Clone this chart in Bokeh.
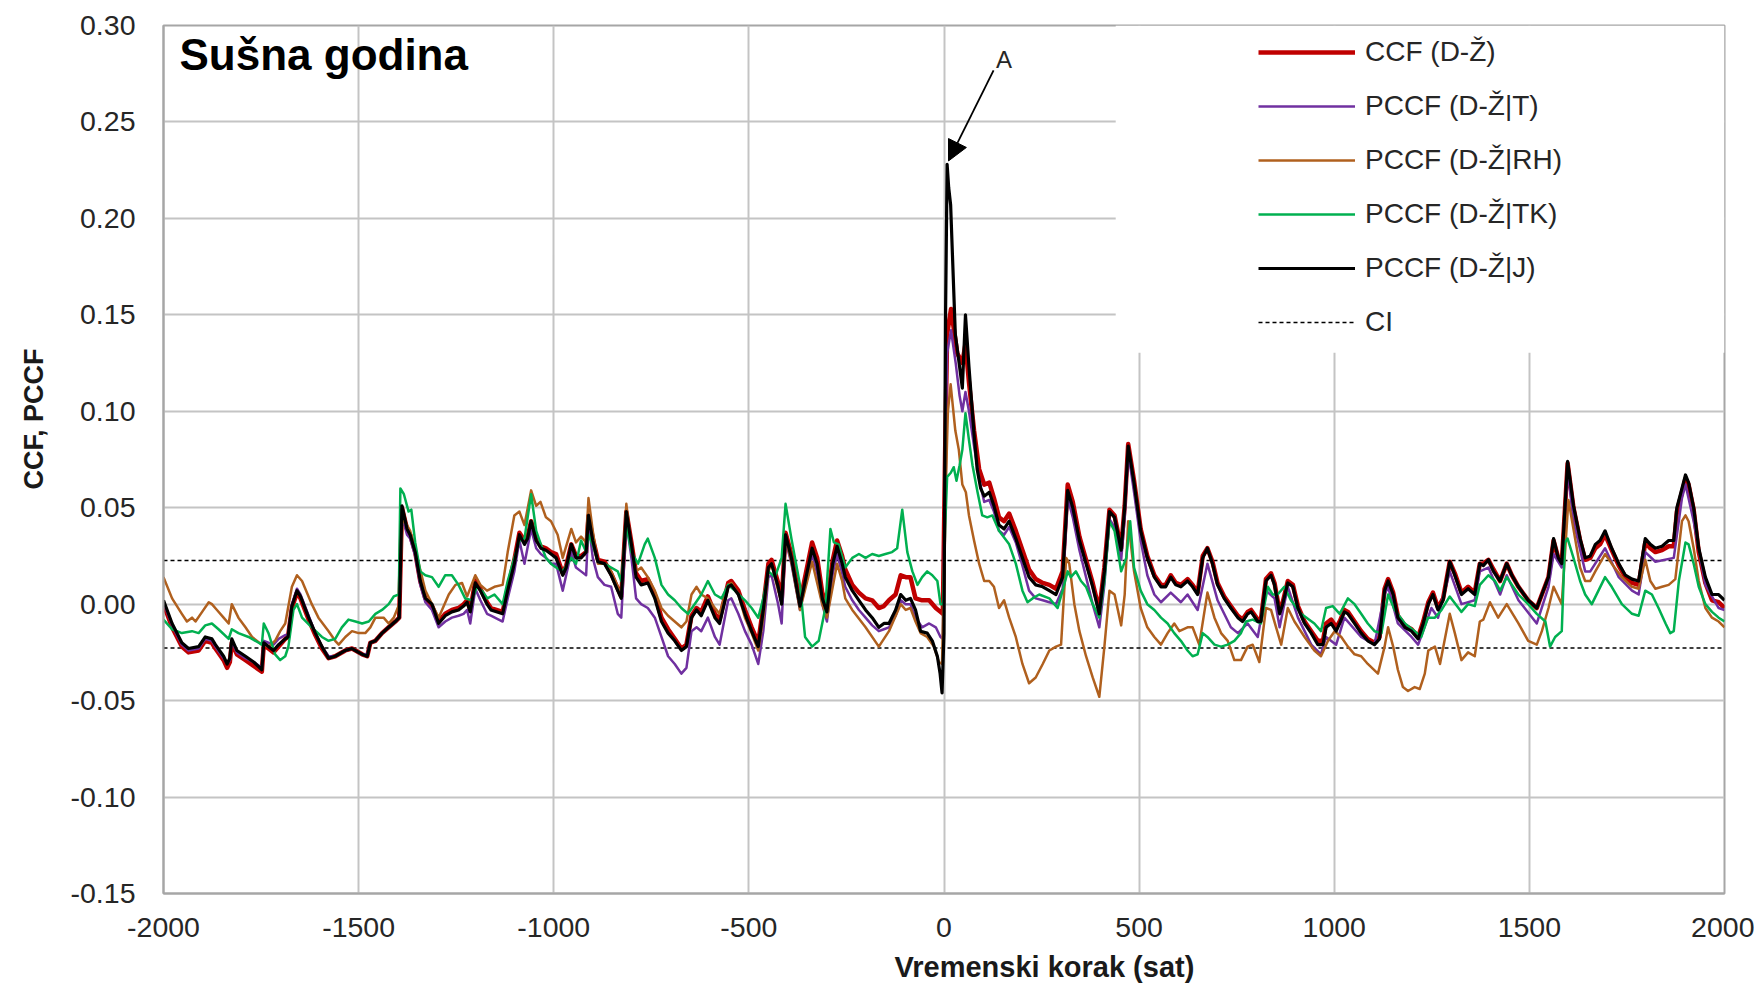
from bokeh.plotting import figure
from bokeh.models import (Range1d, FixedTicker, PrintfTickFormatter, Legend, LegendItem,
                          BoxAnnotation, Arrow, NormalHead, Label, Title)
from bokeh.embed import file_html
from bokeh.resources import INLINE

FONT = "Liberation Sans"

X_TICKS = [-2000, -1500, -1000, -500, 0, 500, 1000, 1500, 2000]
Y_TICKS = [-0.15, -0.10, -0.05, 0.0, 0.05, 0.10, 0.15, 0.20, 0.25, 0.30]
CI = 0.0227

LABELS = ["CCF (D-Ž)", "PCCF (D-Ž|T)", "PCCF (D-Ž|RH)", "PCCF (D-Ž|TK)", "PCCF (D-Ž|J)", "CI"]
X_LABEL = "Vremenski korak (sat)"
Y_LABEL = "CCF, PCCF"
PANEL_TITLE = "Sušna godina"

# PCCF (D-Ž|J)  -- black
PCCF_J = [
(-2000, 0.002), (-1978, -0.010), (-1953, -0.020), (-1936, -0.023), (-1910, -0.022), (-1893, -0.017), (-1876, -0.018), (-1867, -0.021), (-1846, -0.027), (-1837, -0.031), (-1830, -0.028), (-1825, -0.018), (-1812, -0.024), (-1790, -0.027), (-1769, -0.030), (-1748, -0.034), (-1743, -0.020), (-1731, -0.022), (-1718, -0.024), (-1705, -0.021), (-1688, -0.018), (-1681, -0.017), (-1671, -0.001), (-1658, 0.007), (-1649, 0.004), (-1628, -0.007), (-1611, -0.015), (-1594, -0.022), (-1577, -0.028), (-1560, -0.027), (-1534, -0.024), (-1517, -0.023), (-1491, -0.026), (-1478, -0.027), (-1470, -0.020), (-1457, -0.019), (-1440, -0.015), (-1423, -0.012), (-1406, -0.009), (-1396, -0.007), (-1389, 0.051), (-1376, 0.039), (-1368, 0.036), (-1355, 0.027), (-1342, 0.012), (-1329, 0.003), (-1312, 0.000), (-1295, -0.010), (-1278, -0.006), (-1261, -0.004), (-1244, -0.003), (-1231, -0.001), (-1222, 0.001), (-1214, -0.004), (-1201, 0.011), (-1188, 0.007), (-1171, 0.000),
(-1161, -0.003), (-1131, -0.005), (-1118, 0.007), (-1101, 0.021), (-1088, 0.036), (-1075, 0.031), (-1067, 0.034), (-1058, 0.043), (-1045, 0.033), (-1033, 0.029), (-1020, 0.028), (-1007, 0.026), (-994, 0.024), (-977, 0.015), (-968, 0.019), (-955, 0.031), (-943, 0.024), (-930, 0.024), (-917, 0.027), (-911, 0.046), (-900, 0.033), (-887, 0.022), (-870, 0.021), (-853, 0.015), (-836, 0.007), (-827, 0.003), (-814, 0.048), (-801, 0.031), (-789, 0.014), (-776, 0.010), (-759, 0.011), (-741, 0.003), (-724, -0.009), (-707, -0.015), (-690, -0.019), (-673, -0.024), (-660, -0.022), (-647, -0.007), (-634, -0.003), (-622, -0.006), (-605, 0.002), (-587, -0.007), (-575, -0.010), (-553, 0.009), (-545, 0.010), (-527, 0.005), (-510, -0.005), (-493, -0.014), (-476, -0.022), (-463, -0.003), (-450, 0.019), (-442, 0.021), (-425, 0.009), (-416, 0.000), (-406, 0.036), (-391, 0.024), (-369, -0.001),
(-338, 0.029), (-325, 0.021), (-312, 0.003), (-300, -0.004), (-291, 0.012), (-285, 0.021), (-274, 0.030), (-261, 0.021), (-253, 0.014), (-235, 0.007), (-218, 0.002), (-201, -0.003), (-184, -0.007), (-167, -0.012), (-154, -0.010), (-141, -0.010), (-124, -0.003), (-111, 0.005), (-98, 0.002), (-86, 0.003), (-73, -0.003), (-60, -0.014), (-43, -0.015), (-30, -0.019), (-17, -0.027), (-10, -0.036), (-5, -0.046), (0, -0.015),
(4, 0.150), (8, 0.228), (12, 0.216), (17, 0.207), (29, 0.140), (40, 0.123), (47, 0.112), (55, 0.150), (64, 0.123), (77, 0.088), (85, 0.070), (94, 0.060), (103, 0.056), (116, 0.058), (128, 0.051), (141, 0.041), (154, 0.039), (167, 0.043), (184, 0.034), (201, 0.024), (218, 0.014), (235, 0.010), (253, 0.009), (270, 0.007), (287, 0.005), (304, 0.014), (317, 0.059), (330, 0.050), (347, 0.033), (364, 0.021), (381, 0.009), (398, -0.005), (411, 0.017), (424, 0.048), (437, 0.045), (454, 0.028), (463, 0.050), (472, 0.082), (487, 0.063), (504, 0.038), (521, 0.024), (539, 0.014), (556, 0.009), (568, 0.009), (581, 0.014), (594, 0.010), (607, 0.009), (624, 0.012), (637, 0.009), (650, 0.005), (663, 0.024), (675, 0.029), (688, 0.021), (701, 0.010), (718, 0.003), (735, -0.002), (753, -0.007), (765, -0.009), (778, -0.005), (787, -0.004), (804, -0.009), (812, -0.009), (825, 0.012), (838, 0.015), (847, 0.010), (860, -0.005), (868, 0.000), (881, 0.011), (894, 0.009), (907, -0.002), (924, -0.010), (941, -0.015), (958, -0.021), (971, -0.021), (979, -0.012), (992, -0.010), (1005, -0.014), (1014, -0.010), (1026, -0.004), (1035, -0.005), (1052, -0.010), (1069, -0.015), (1086, -0.019), (1103, -0.021), (1116, -0.018), (1129, 0.007), (1138, 0.012), (1151, 0.005), (1163, -0.007), (1181, -0.012), (1198, -0.014), (1215, -0.018), (1228, -0.010), (1241, 0.000), (1253, 0.005), (1266, -0.003), (1279, 0.002), (1296, 0.022), (1309, 0.015), (1326, 0.005), (1343, 0.008), (1360, 0.005), (1373, 0.021), (1382, 0.020), (1395, 0.023), (1408, 0.017), (1425, 0.012), (1442, 0.021), (1455, 0.015), (1472, 0.009), (1497, 0.002), (1519, -0.002), (1532, 0.005), (1549, 0.014), (1562, 0.034), (1574, 0.024), (1583, 0.021), (1598, 0.074), (1613, 0.051), (1630, 0.034), (1643, 0.024), (1656, 0.025), (1669, 0.031), (1681, 0.033), (1694, 0.038), (1711, 0.029), (1729, 0.021), (1746, 0.015), (1763, 0.013), (1780, 0.012), (1797, 0.034), (1810, 0.031), (1823, 0.029), (1840, 0.030), (1857, 0.033), (1870, 0.033), (1878, 0.050), (1891, 0.060), (1900, 0.067), (1908, 0.063), (1921, 0.050), (1934, 0.029), (1951, 0.014), (1968, 0.005), (1985, 0.005), (2000, 0.002),
]

# CCF (D-Ž) -- red
CCF = [
(-2000, 0.000), (-1978, -0.012), (-1953, -0.022), (-1936, -0.025), (-1910, -0.024), (-1893, -0.019), (-1876, -0.020), (-1867, -0.023), (-1846, -0.029), (-1837, -0.033), (-1830, -0.030), (-1825, -0.020), (-1812, -0.026), (-1790, -0.029), (-1769, -0.032), (-1748, -0.035), (-1743, -0.021), (-1731, -0.023), (-1718, -0.025), (-1705, -0.022), (-1688, -0.018), (-1681, -0.017), (-1671, -0.002), (-1658, 0.006), (-1649, 0.003), (-1628, -0.008), (-1611, -0.016), (-1594, -0.023), (-1577, -0.028), (-1560, -0.027), (-1534, -0.024), (-1517, -0.023), (-1491, -0.026), (-1478, -0.027), (-1470, -0.020), (-1457, -0.019), (-1440, -0.015), (-1423, -0.012), (-1406, -0.009), (-1396, -0.007), (-1389, 0.050), (-1376, 0.039), (-1368, 0.036), (-1355, 0.027), (-1342, 0.012), (-1329, 0.003), (-1312, -0.001), (-1295, -0.009), (-1278, -0.005), (-1261, -0.003), (-1244, -0.002), (-1231, 0.000), (-1222, 0.002), (-1214, -0.003), (-1201, 0.012), (-1188, 0.008), (-1171, 0.001),
(-1161, -0.002), (-1131, -0.004), (-1118, 0.008), (-1101, 0.023), (-1088, 0.037), (-1075, 0.033), (-1067, 0.035), (-1058, 0.043), (-1045, 0.034), (-1033, 0.030), (-1020, 0.029), (-1007, 0.027), (-994, 0.026), (-977, 0.016), (-968, 0.020), (-955, 0.031), (-943, 0.025), (-930, 0.025), (-917, 0.027), (-911, 0.046), (-900, 0.034), (-887, 0.023), (-870, 0.022), (-853, 0.016), (-836, 0.008), (-827, 0.004), (-814, 0.048), (-801, 0.032), (-789, 0.016), (-776, 0.012), (-759, 0.013), (-741, 0.005), (-724, -0.007), (-707, -0.013), (-690, -0.018), (-673, -0.023), (-660, -0.021), (-647, -0.006), (-634, -0.002), (-622, -0.004), (-605, 0.004), (-587, -0.005), (-575, -0.008), (-553, 0.011), (-545, 0.012), (-527, 0.007), (-510, -0.003), (-493, -0.012), (-476, -0.020), (-463, -0.001), (-450, 0.021), (-442, 0.023), (-425, 0.011), (-416, 0.002), (-406, 0.037), (-391, 0.026), (-369, 0.001),
(-338, 0.032), (-325, 0.024), (-312, 0.006), (-300, -0.001), (-291, 0.014), (-285, 0.023), (-274, 0.033), (-261, 0.025), (-253, 0.018), (-235, 0.010), (-218, 0.006), (-201, 0.003), (-184, 0.002), (-167, -0.002), (-154, -0.001), (-141, 0.002), (-124, 0.005), (-111, 0.015), (-98, 0.014), (-86, 0.014), (-73, 0.003), (-56, 0.002), (-38, 0.002), (-21, -0.002), (-9, -0.004), (-3, -0.005),
(3, 0.080), (8, 0.140), (18, 0.153), (34, 0.130), (47, 0.125), (55, 0.135), (64, 0.115), (77, 0.090), (90, 0.070), (103, 0.062), (116, 0.063), (128, 0.055), (141, 0.045), (154, 0.043), (167, 0.047), (184, 0.038), (201, 0.028), (218, 0.018), (235, 0.013), (253, 0.011), (270, 0.010), (287, 0.008), (304, 0.017), (317, 0.062), (330, 0.053), (347, 0.035), (364, 0.023), (381, 0.011), (398, -0.003), (411, 0.019), (424, 0.049), (437, 0.046), (454, 0.029), (463, 0.051), (472, 0.083), (487, 0.064), (504, 0.039), (521, 0.025), (539, 0.015), (556, 0.010), (568, 0.010), (581, 0.015), (594, 0.011), (607, 0.010), (624, 0.013), (637, 0.010), (650, 0.006), (663, 0.025), (675, 0.029), (688, 0.022), (701, 0.011), (718, 0.004), (735, -0.001), (753, -0.006), (765, -0.008), (778, -0.004), (787, -0.003), (804, -0.008), (812, -0.008), (825, 0.013), (838, 0.016), (847, 0.011), (860, -0.004), (868, 0.001), (881, 0.012), (894, 0.010), (907, -0.001), (924, -0.009), (941, -0.014), (958, -0.019), (971, -0.019), (979, -0.010), (992, -0.008), (1005, -0.012), (1014, -0.009), (1026, -0.003), (1035, -0.004), (1052, -0.009), (1069, -0.014), (1086, -0.018), (1103, -0.020), (1116, -0.017), (1129, 0.008), (1138, 0.013), (1151, 0.006), (1163, -0.006), (1181, -0.011), (1198, -0.013), (1215, -0.017), (1228, -0.009), (1241, 0.001), (1253, 0.006), (1266, -0.002), (1279, 0.003), (1296, 0.022), (1309, 0.016), (1326, 0.006), (1343, 0.009), (1360, 0.006), (1373, 0.021), (1382, 0.021), (1395, 0.023), (1408, 0.018), (1425, 0.012), (1442, 0.021), (1455, 0.015), (1472, 0.009), (1497, 0.002), (1519, -0.002), (1532, 0.005), (1549, 0.014), (1562, 0.033), (1574, 0.024), (1583, 0.021), (1598, 0.073), (1613, 0.050), (1630, 0.033), (1643, 0.023), (1656, 0.024), (1669, 0.029), (1681, 0.031), (1694, 0.036), (1711, 0.028), (1729, 0.020), (1746, 0.014), (1763, 0.011), (1780, 0.010), (1797, 0.032), (1810, 0.029), (1823, 0.027), (1840, 0.028), (1857, 0.030), (1870, 0.030), (1878, 0.048), (1891, 0.058), (1900, 0.065), (1908, 0.062), (1921, 0.049), (1934, 0.027), (1951, 0.011), (1968, 0.002), (1985, 0.001), (2000, -0.002),
]

# PCCF (D-Ž|T) -- purple
PCCF_T = [
(-2000, 0.001), (-1978, -0.011), (-1953, -0.021), (-1936, -0.024), (-1910, -0.023), (-1893, -0.018), (-1876, -0.019), (-1867, -0.022), (-1846, -0.028), (-1837, -0.031), (-1830, -0.029), (-1825, -0.019), (-1812, -0.025), (-1790, -0.028), (-1769, -0.030), (-1748, -0.033), (-1743, -0.019), (-1731, -0.020), (-1718, -0.021), (-1705, -0.018), (-1688, -0.016), (-1681, -0.016), (-1671, 0.000), (-1658, 0.008), (-1649, 0.005), (-1628, -0.006), (-1611, -0.015), (-1594, -0.022), (-1577, -0.027), (-1560, -0.027), (-1534, -0.024), (-1517, -0.023), (-1491, -0.026), (-1478, -0.026), (-1470, -0.020), (-1457, -0.019), (-1440, -0.015), (-1423, -0.012), (-1406, -0.009), (-1396, -0.007), (-1389, 0.046), (-1376, 0.036), (-1368, 0.034), (-1355, 0.025), (-1342, 0.010), (-1329, 0.001), (-1312, -0.003), (-1295, -0.012), (-1278, -0.009), (-1261, -0.007), (-1244, -0.006), (-1231, -0.005), (-1222, -0.003), (-1214, -0.010), (-1201, 0.008), (-1188, 0.002), (-1171, -0.005),
(-1161, -0.006), (-1131, -0.009), (-1118, 0.003), (-1101, 0.017), (-1088, 0.033), (-1075, 0.021), (-1058, 0.039), (-1045, 0.029), (-1033, 0.026), (-1020, 0.024), (-1007, 0.021), (-994, 0.021), (-977, 0.007), (-955, 0.027), (-943, 0.019), (-930, 0.017), (-917, 0.015), (-911, 0.043), (-900, 0.024), (-887, 0.014), (-870, 0.010), (-853, 0.009), (-836, -0.005), (-827, -0.007), (-814, 0.043), (-801, 0.024), (-789, 0.003), (-776, 0.000), (-759, -0.002), (-741, -0.007), (-724, -0.017), (-707, -0.027), (-690, -0.031), (-673, -0.036), (-660, -0.033), (-647, -0.014), (-634, -0.012), (-622, -0.014), (-605, -0.007), (-587, -0.017), (-575, -0.021), (-553, 0.002), (-545, 0.003), (-527, -0.005), (-510, -0.014), (-493, -0.021), (-476, -0.031), (-463, -0.014), (-450, 0.014), (-442, 0.015), (-425, 0.000), (-416, -0.010), (-406, 0.033), (-391, 0.021), (-369, -0.003),
(-338, 0.026), (-325, 0.016), (-312, 0.000), (-300, -0.009), (-291, 0.006), (-285, 0.016), (-274, 0.026), (-261, 0.016), (-253, 0.009), (-235, 0.002), (-218, -0.003), (-201, -0.007), (-184, -0.011), (-167, -0.014), (-154, -0.013), (-141, -0.012), (-124, -0.006), (-111, 0.002), (-98, 0.000), (-86, 0.000), (-73, -0.007), (-56, -0.012), (-38, -0.010), (-21, -0.012), (-9, -0.017), (-3, -0.018),
(3, 0.070), (8, 0.130), (18, 0.142), (30, 0.125), (40, 0.108), (47, 0.100), (55, 0.110), (64, 0.100), (77, 0.082), (90, 0.065), (103, 0.053), (116, 0.054), (128, 0.048), (141, 0.038), (154, 0.036), (167, 0.040), (184, 0.032), (201, 0.020), (218, 0.007), (235, 0.003), (253, 0.002), (270, 0.001), (287, 0.000), (304, 0.008), (317, 0.055), (330, 0.045), (347, 0.028), (364, 0.014), (381, 0.000), (398, -0.012), (411, 0.010), (424, 0.044), (437, 0.040), (454, 0.023), (463, 0.045), (472, 0.079), (487, 0.058), (504, 0.033), (521, 0.015), (539, 0.005), (556, 0.001), (581, 0.006), (607, 0.001), (624, 0.005), (650, -0.003), (675, 0.021), (701, 0.002), (735, -0.012), (753, -0.015), (778, -0.010), (804, -0.017), (825, 0.007), (847, 0.003), (860, -0.012), (881, 0.009), (907, -0.007), (941, -0.021), (966, -0.026), (979, -0.017), (1005, -0.021), (1026, -0.007), (1069, -0.017), (1103, -0.021), (1129, 0.005), (1138, 0.009), (1163, -0.010), (1198, -0.017), (1215, -0.021), (1249, -0.002), (1266, -0.007), (1296, 0.017), (1326, 0.000), (1360, 0.002), (1373, 0.017), (1395, 0.019), (1425, 0.005), (1442, 0.015), (1472, 0.002), (1519, -0.010), (1549, 0.009), (1562, 0.026), (1583, 0.019), (1598, 0.070), (1613, 0.043), (1643, 0.017), (1656, 0.017), (1694, 0.029), (1729, 0.014), (1763, 0.007), (1780, 0.005), (1797, 0.027), (1823, 0.022), (1870, 0.024), (1891, 0.055), (1900, 0.062), (1921, 0.043), (1951, 0.010), (1985, -0.002), (2000, -0.003),
]

# PCCF (D-Ž|RH) -- brown
PCCF_RH = [
(-2000, 0.014), (-1978, 0.003), (-1953, -0.005), (-1940, -0.009), (-1927, -0.007), (-1918, -0.009), (-1901, -0.004), (-1884, 0.001), (-1876, 0.000), (-1863, -0.003), (-1846, -0.007), (-1833, -0.010), (-1825, 0.000), (-1808, -0.007), (-1790, -0.012), (-1773, -0.017), (-1748, -0.021), (-1731, -0.022), (-1714, -0.019), (-1701, -0.014), (-1688, -0.010), (-1671, 0.009), (-1658, 0.015), (-1645, 0.012), (-1620, 0.000), (-1603, -0.007), (-1577, -0.014), (-1560, -0.019), (-1551, -0.021), (-1534, -0.017), (-1517, -0.014), (-1500, -0.015), (-1483, -0.015), (-1470, -0.012), (-1457, -0.007), (-1436, -0.007), (-1423, -0.010), (-1410, -0.007), (-1396, 0.000), (-1388, 0.044), (-1376, 0.041), (-1368, 0.038), (-1346, 0.021), (-1329, 0.007), (-1312, 0.000), (-1295, -0.007), (-1269, 0.005), (-1252, 0.010), (-1235, 0.011), (-1222, 0.004), (-1201, 0.015), (-1188, 0.010), (-1171, 0.007),
(-1152, 0.009), (-1131, 0.010), (-1118, 0.027), (-1101, 0.046), (-1088, 0.048), (-1075, 0.041), (-1058, 0.059), (-1045, 0.051), (-1034, 0.053), (-1020, 0.045), (-1007, 0.043), (-990, 0.036), (-977, 0.024), (-955, 0.039), (-943, 0.032), (-930, 0.035), (-917, 0.032), (-911, 0.055), (-900, 0.038), (-887, 0.021), (-870, 0.021), (-853, 0.017), (-836, 0.009), (-827, 0.005), (-814, 0.052), (-801, 0.029), (-789, 0.017), (-776, 0.019), (-759, 0.014), (-741, 0.007), (-724, -0.002), (-707, -0.006), (-690, -0.009), (-673, -0.012), (-660, -0.009), (-647, 0.005), (-634, 0.009), (-622, 0.005), (-605, 0.003), (-587, -0.002), (-575, -0.005), (-553, 0.010), (-545, 0.011), (-527, 0.005), (-510, -0.007), (-493, -0.015), (-476, -0.024), (-463, -0.007), (-450, 0.017), (-442, 0.021), (-425, 0.007), (-416, 0.002), (-406, 0.034), (-391, 0.022), (-369, -0.003),
(-338, 0.022), (-312, 0.000), (-300, -0.007), (-274, 0.021), (-261, 0.012), (-253, 0.003), (-235, -0.003), (-201, -0.012), (-167, -0.022), (-141, -0.014), (-111, 0.000), (-98, -0.003), (-86, -0.002), (-73, -0.009), (-60, -0.015), (-43, -0.017), (-26, -0.022), (-13, -0.030), (-5, -0.031),
(3, 0.050), (10, 0.100), (17, 0.114), (29, 0.090), (38, 0.080), (47, 0.062), (56, 0.058), (64, 0.046), (77, 0.033), (90, 0.021), (103, 0.012), (116, 0.012), (128, 0.009), (141, -0.002), (154, 0.002), (167, -0.007), (184, -0.017), (201, -0.031), (218, -0.041), (235, -0.038), (253, -0.031), (270, -0.024), (287, -0.022), (300, -0.021), (313, 0.024), (321, 0.021), (334, 0.000), (347, -0.014), (364, -0.027), (381, -0.038), (398, -0.048), (411, -0.022), (424, 0.007), (437, 0.005), (454, -0.011), (463, 0.005), (472, 0.043), (487, 0.017), (504, -0.002), (521, -0.012), (539, -0.017), (556, -0.021), (573, -0.015), (590, -0.010), (603, -0.014), (624, -0.012), (637, -0.012), (654, -0.021), (675, 0.006), (693, -0.007), (710, -0.015), (727, -0.019), (744, -0.029), (761, -0.029), (778, -0.022), (791, -0.021), (808, -0.030), (825, -0.002), (838, -0.003), (851, -0.012), (864, -0.021), (881, -0.002), (898, -0.009), (924, -0.017), (949, -0.024), (966, -0.027), (984, -0.019), (1001, -0.014), (1018, -0.017), (1035, -0.022), (1052, -0.026), (1069, -0.027), (1086, -0.031), (1112, -0.036), (1129, -0.022), (1138, -0.012), (1151, -0.022), (1163, -0.034), (1176, -0.043), (1189, -0.045), (1206, -0.043), (1219, -0.044), (1232, -0.036), (1241, -0.024), (1258, -0.022), (1271, -0.031), (1296, -0.005), (1309, -0.015), (1326, -0.029), (1343, -0.025), (1360, -0.027), (1373, -0.009), (1382, -0.008), (1399, 0.001), (1420, -0.007), (1442, 0.000), (1472, -0.010), (1497, -0.019), (1519, -0.021), (1532, -0.014), (1549, -0.002), (1562, 0.009), (1583, 0.000), (1600, 0.054), (1613, 0.039), (1630, 0.019), (1643, 0.012), (1656, 0.012), (1669, 0.017), (1694, 0.026), (1711, 0.021), (1737, 0.014), (1763, 0.009), (1780, 0.008), (1797, 0.023), (1810, 0.012), (1823, 0.008), (1840, 0.009), (1857, 0.010), (1874, 0.013), (1891, 0.043), (1900, 0.046), (1908, 0.043), (1921, 0.029), (1934, 0.012), (1951, -0.002), (1968, -0.007), (1985, -0.009), (2000, -0.012),
]

# PCCF (D-Ž|TK) -- green
PCCF_TK = [
(-2000, -0.008), (-1978, -0.013), (-1953, -0.015), (-1927, -0.014), (-1910, -0.015), (-1893, -0.011), (-1876, -0.010), (-1859, -0.013), (-1833, -0.018), (-1825, -0.013), (-1808, -0.015), (-1782, -0.017), (-1756, -0.020), (-1748, -0.021), (-1743, -0.010), (-1731, -0.015), (-1714, -0.026), (-1701, -0.029), (-1688, -0.027), (-1680, -0.022), (-1667, -0.003), (-1658, 0.000), (-1645, -0.007), (-1620, -0.012), (-1594, -0.017), (-1577, -0.019), (-1560, -0.018), (-1543, -0.012), (-1526, -0.008), (-1508, -0.009), (-1491, -0.010), (-1474, -0.009), (-1457, -0.005), (-1440, -0.003), (-1423, 0.000), (-1410, 0.004), (-1397, 0.005), (-1393, 0.060), (-1384, 0.057), (-1372, 0.048), (-1365, 0.049), (-1355, 0.032), (-1342, 0.017), (-1329, 0.015), (-1312, 0.014), (-1295, 0.009), (-1278, 0.015), (-1261, 0.015), (-1244, 0.010), (-1227, 0.003), (-1210, 0.002), (-1197, 0.009), (-1184, 0.007), (-1170, 0.003),
(-1152, 0.005), (-1131, 0.000), (-1118, 0.012), (-1101, 0.024), (-1088, 0.033), (-1075, 0.034), (-1058, 0.057), (-1045, 0.038), (-1033, 0.031), (-1020, 0.024), (-1007, 0.021), (-994, 0.019), (-977, 0.017), (-955, 0.024), (-943, 0.021), (-930, 0.033), (-917, 0.027), (-911, 0.036), (-900, 0.031), (-887, 0.022), (-870, 0.021), (-853, 0.019), (-836, 0.017), (-827, 0.012), (-814, 0.041), (-801, 0.027), (-784, 0.021), (-767, 0.031), (-759, 0.034), (-741, 0.024), (-724, 0.010), (-707, 0.005), (-690, 0.002), (-673, -0.002), (-656, -0.005), (-639, 0.000), (-622, 0.005), (-605, 0.012), (-587, 0.005), (-570, 0.003), (-553, 0.010), (-536, 0.007), (-510, 0.002), (-493, -0.002), (-476, -0.007), (-463, 0.003), (-450, 0.017), (-433, 0.014), (-416, 0.024), (-406, 0.052), (-391, 0.034), (-369, 0.010), (-356, -0.017),
(-338, -0.022), (-321, -0.019), (-304, -0.002), (-291, 0.039), (-282, 0.032), (-270, 0.031), (-253, 0.019), (-235, 0.024), (-218, 0.026), (-201, 0.024), (-184, 0.026), (-167, 0.025), (-150, 0.026), (-133, 0.027), (-120, 0.029), (-107, 0.049), (-94, 0.027), (-81, 0.017), (-68, 0.010), (-56, 0.014), (-43, 0.017), (-30, 0.015), (-17, 0.012), (-9, 0.000), (-2, 0.000),
(3, 0.040), (8, 0.066), (17, 0.068), (25, 0.071), (32, 0.064), (40, 0.072), (47, 0.080), (55, 0.099), (64, 0.085), (73, 0.072), (86, 0.058), (98, 0.046), (111, 0.045), (124, 0.046), (141, 0.038), (167, 0.031), (184, 0.021), (201, 0.007), (214, 0.001), (227, 0.003), (244, 0.005), (270, 0.003), (291, -0.002), (304, 0.007), (317, 0.017), (325, 0.014), (338, 0.017), (351, 0.012), (364, 0.009), (381, 0.000), (398, -0.007), (411, 0.012), (424, 0.043), (437, 0.038), (454, 0.017), (467, 0.024), (477, 0.043), (487, 0.019), (504, 0.007), (521, 0.000), (539, -0.003), (556, -0.007), (573, -0.010), (590, -0.015), (607, -0.019), (624, -0.024), (637, -0.027), (650, -0.026), (663, -0.015), (675, -0.017), (693, -0.021), (710, -0.022), (727, -0.021), (744, -0.019), (761, -0.015), (774, -0.009), (791, -0.008), (812, -0.010), (830, 0.009), (842, 0.005), (855, 0.005), (872, 0.009), (889, 0.002), (915, -0.005), (949, -0.010), (966, -0.014), (979, -0.002), (996, -0.001), (1014, -0.005), (1035, 0.003), (1052, 0.000), (1069, -0.005), (1086, -0.010), (1103, -0.014), (1121, -0.015), (1138, 0.005), (1155, -0.003), (1181, -0.010), (1206, -0.014), (1223, -0.017), (1240, -0.007), (1258, -0.007), (1275, -0.003), (1296, 0.004), (1326, -0.004), (1343, 0.000), (1360, -0.001), (1373, 0.010), (1395, 0.015), (1412, 0.012), (1425, 0.007), (1442, 0.014), (1472, 0.005), (1497, 0.000), (1519, -0.005), (1541, -0.009), (1553, -0.022), (1566, -0.017), (1583, -0.014), (1591, 0.032), (1598, 0.034), (1613, 0.024), (1630, 0.012), (1643, 0.005), (1660, 0.000), (1677, 0.007), (1694, 0.014), (1711, 0.009), (1737, 0.000), (1763, -0.005), (1780, -0.006), (1797, 0.007), (1814, 0.005), (1831, -0.002), (1849, -0.010), (1861, -0.015), (1870, -0.014), (1883, 0.012), (1900, 0.032), (1908, 0.031), (1921, 0.021), (1934, 0.009), (1951, 0.000), (1968, -0.004), (1985, -0.007), (2000, -0.009),
]

SERIES_COLORS = ["#c00000", "#7030a0", "#b0601e", "#00b050", "#000000"]
SERIES_WIDTHS = [4.5, 2.5, 2.5, 2.5, 3.2]

p = figure(frame_width=1561, frame_height=868,
           x_range=Range1d(X_TICKS[0], X_TICKS[-1]), y_range=Range1d(Y_TICKS[0], Y_TICKS[-1]),
           output_backend="svg", toolbar_location=None,
           min_border_left=163, min_border_top=25, min_border_right=30, min_border_bottom=100,
           background_fill_color="white", border_fill_color="white")

p.outline_line_color = "#a6a6a6"
p.outline_line_width = 2

for g in (p.xgrid, p.ygrid):
    g.grid_line_color = "#c4c4c4"
    g.grid_line_width = 2

p.xaxis.ticker = FixedTicker(ticks=X_TICKS)
p.yaxis.ticker = FixedTicker(ticks=Y_TICKS)
p.yaxis.formatter = PrintfTickFormatter(format="%.2f")
p.xaxis.formatter = PrintfTickFormatter(format="%d")

for ax in (p.xaxis[0], p.yaxis[0]):
    ax.major_tick_line_color = None
    ax.minor_tick_line_color = None
    ax.major_tick_out = 0
    ax.major_tick_in = 0
    ax.axis_line_color = "#a6a6a6"
    ax.axis_line_width = 2
    ax.major_label_text_font = FONT
    ax.major_label_text_font_size = "28.5px"
    ax.major_label_text_color = "#262626"

p.xaxis.major_label_standoff = 24
p.yaxis.major_label_standoff = 28

# axis titles as side titles, so they can sit off-centre like in the original
x_title = Title(text=X_LABEL, align="left", offset=731, standoff=18, vertical_align="bottom",
                text_font=FONT, text_font_size="29px", text_font_style="bold",
                text_color="#1a1a1a")
p.add_layout(x_title, "below")
y_title = Title(text=Y_LABEL, align="left", offset=404, standoff=34, vertical_align="top",
                text_font=FONT, text_font_size="27px", text_font_style="bold",
                text_color="#1a1a1a")
p.add_layout(y_title, "left")

# CI lines
ci_up = p.line(x=[X_TICKS[0], X_TICKS[-1]], y=[CI, CI], line_color="black",
               line_width=1.5, line_dash="4 3")
p.line(x=[X_TICKS[0], X_TICKS[-1]], y=[-CI, -CI], line_color="black",
       line_width=1.5, line_dash="4 3")

renderers = []
for data, col, w in zip([CCF, PCCF_T, PCCF_RH, PCCF_TK, PCCF_J], SERIES_COLORS, SERIES_WIDTHS):
    xs = [d[0] for d in data]
    ys = [d[1] for d in data]
    r = p.line(xs, ys, line_color=col, line_width=w, line_join="round")
    renderers.append(r)

# white area behind the legend
LEGEND_BOX = dict(left=440, right=2000, bottom=0.1303, top=0.30)
p.add_layout(BoxAnnotation(fill_color="white", fill_alpha=1.0, line_alpha=0, **LEGEND_BOX))

items = [LegendItem(label=lab, renderers=[r]) for lab, r in zip(LABELS, renderers + [ci_up])]
legend = Legend(items=items, location=(1085, 545), background_fill_alpha=0,
                border_line_alpha=0, label_text_font=FONT, label_text_font_size="28px",
                label_text_color="#262626", glyph_width=97, glyph_height=30,
                label_height=30, spacing=22, padding=10, margin=0, label_standoff=10)
p.add_layout(legend)

# panel title
p.add_layout(Label(x=-1959, y=0.285, text=PANEL_TITLE, text_font=FONT,
                   text_font_size="44px", text_font_style="bold", text_color="black",
                   text_baseline="alphabetic", text_align="left"))

# annotation "A" with arrow to the peak
ARROW = dict(x_start=127, y_start=0.2767, x_end=11.6, y_end=0.2298)
p.add_layout(Arrow(end=NormalHead(size=20, fill_color="black", line_color="black"),
                   line_color="black", line_width=1.8, **ARROW))
p.add_layout(Label(x=154, y=0.2825, text="A", text_font=FONT, text_font_size="24px",
                   text_align="center", text_baseline="middle", text_color="#262626"))

open("out.html", "w").write(file_html(p, INLINE, PANEL_TITLE))
